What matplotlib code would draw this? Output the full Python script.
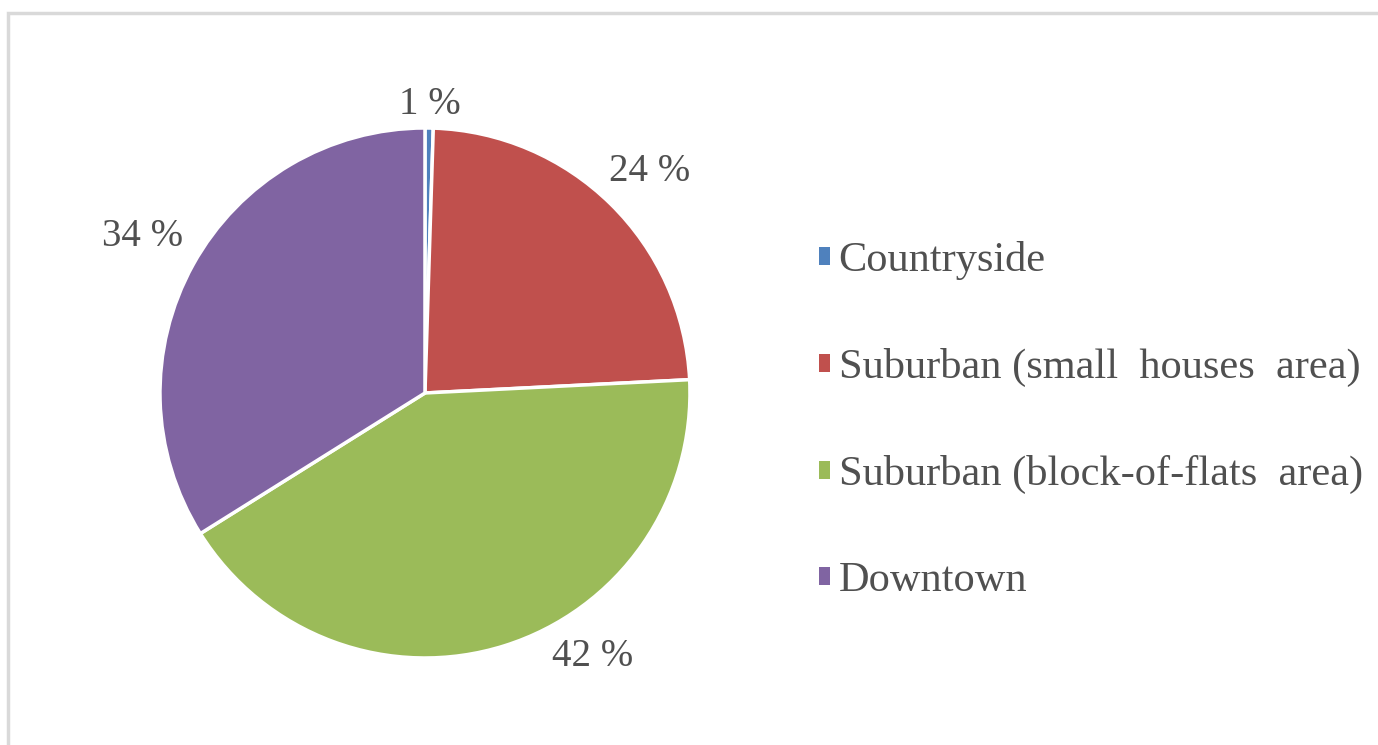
import matplotlib.pyplot as plt
import matplotlib.patches as mpatches
import numpy as np

# data
categories = ['Countryside', 'Suburban (small  houses  area)',
              'Suburban (block-of-flats  area)', 'Downtown']
shares = [0.5, 23.7, 41.9, 33.9]
pct_labels = ['1 %', '24 %', '42 %', '34 %']
colors = ['#4F81BD', '#C0504D', '#9BBB59', '#8064A2']

plt.rcParams['font.family'] = ['Liberation Serif', 'DejaVu Serif']

fig = plt.figure(figsize=(13.78, 7.45), dpi=100)

# light frame around the chart area (cut off on right and bottom)
fig.patches.append(mpatches.Rectangle((8 / 1378, -0.1), 1.2, (745 - 13) / 745 + 0.1,
                                      transform=fig.transFigure, fill=False,
                                      edgecolor='#d9d9d9', linewidth=2.5))

ax = fig.add_axes([0.1161, 0.1168, 0.3846, 0.7114])
wedges, _ = ax.pie(shares, colors=colors, startangle=90, counterclock=False,
                   radius=1, wedgeprops=dict(edgecolor='white', linewidth=2.5))
ax.set_xlim(-1, 1)
ax.set_ylim(-1, 1)
ax.set_aspect('equal')
ax.axis('off')

# label placement (radius, angle shift in degrees)
label_r = [1.09, 1.19, 1.18, 1.22]
label_shift = [0, -1, 15, 0]
for w, txt, r, sh in zip(wedges, pct_labels, label_r, label_shift):
    ang = np.deg2rad((w.theta1 + w.theta2) / 2 + sh)
    ax.text(r * np.cos(ang), r * np.sin(ang), txt, ha='center', va='center',
            fontsize=28, color='#505050', clip_on=False)

handles = [mpatches.Patch(facecolor=c) for c in colors]
leg = fig.legend(handles, categories, loc='center left',
                 bbox_to_anchor=(0.579, 0.435), frameon=False, borderpad=0,
                 fontsize=30.5, handlelength=0.26, handleheight=0.26,
                 handletextpad=0.2, labelspacing=1.6, labelcolor='#505050')

fig.savefig('out.png', dpi=100)
